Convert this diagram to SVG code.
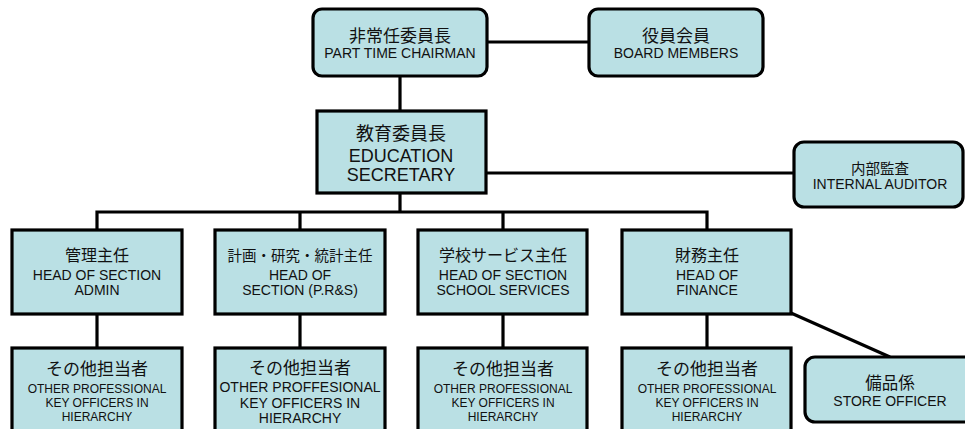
<svg xmlns="http://www.w3.org/2000/svg" width="965" height="429" viewBox="0 0 965 429">
<style>
.box{fill:#bae0e4;stroke:#000;stroke-width:3.2}
.c{stroke:#000;stroke-width:3.2;fill:none}
text{font-family:"Liberation Sans","Noto Sans CJK JP",Arial,sans-serif;text-anchor:middle;fill:#111}
.j{font-family:"Noto Sans CJK JP","Liberation Sans",sans-serif}
.e14{font-size:14px}
.e12{font-size:12px}
</style>
<rect width="965" height="429" fill="#fff"/>
<g id="connectors">
<line class="c" x1="487" y1="42" x2="589" y2="42"/>
<line class="c" x1="400" y1="76" x2="400" y2="111"/>
<line class="c" x1="486" y1="173" x2="794" y2="173"/>
<line class="c" x1="400" y1="193" x2="400" y2="212"/>
<polyline class="c" points="97,230 97,212 707,212 707,230"/>
<line class="c" x1="300" y1="212" x2="300" y2="230"/>
<line class="c" x1="503" y1="212" x2="503" y2="230"/>
<line class="c" x1="97" y1="314" x2="97" y2="348"/>
<line class="c" x1="300" y1="314" x2="300" y2="348"/>
<line class="c" x1="503" y1="314" x2="503" y2="348"/>
<line class="c" x1="707" y1="314" x2="707" y2="348"/>
<line class="c" x1="791" y1="313" x2="890" y2="357"/>
</g>
<g id="chairman">
<rect class="box" x="313" y="9" width="174" height="67" rx="9"/>
<text class="j" x="400" y="41.5" font-size="17">非常任委員長</text>
<text class="e14" x="400" y="58">PART TIME CHAIRMAN</text>
</g>
<g id="board">
<rect class="box" x="589" y="9" width="174" height="67" rx="9"/>
<text class="j" x="676" y="41.5" font-size="17">役員会員</text>
<text class="e14" x="676" y="58">BOARD MEMBERS</text>
</g>
<g id="education">
<rect class="box" x="317" y="111" width="169" height="82"/>
<text class="j" x="401" y="140" font-size="18">教育委員長</text>
<text x="401" y="161.5" font-size="18">EDUCATION</text>
<text x="401" y="180.5" font-size="18">SECRETARY</text>
</g>
<g id="auditor">
<rect class="box" x="794" y="142" width="169" height="65" rx="10"/>
<text class="j" x="880" y="173.5" font-size="14.5">内部監査</text>
<text class="e14" x="880" y="189">INTERNAL AUDITOR</text>
</g>
<g id="head-admin">
<rect class="box" x="12" y="230" width="170" height="84"/>
<text class="j" x="97" y="261" font-size="16">管理主任</text>
<text class="e14" x="97" y="280">HEAD OF SECTION</text>
<text class="e14" x="97" y="295">ADMIN</text>
</g>
<g id="head-prs">
<rect class="box" x="215" y="230" width="170" height="84"/>
<text class="j" x="300" y="261" font-size="14.5">計画・研究・統計主任</text>
<text class="e14" x="300" y="280">HEAD OF</text>
<text class="e14" x="300" y="295">SECTION (P.R&amp;S)</text>
</g>
<g id="head-school">
<rect class="box" x="418" y="230" width="169" height="84"/>
<text class="j" x="503" y="261" font-size="16">学校サービス主任</text>
<text class="e14" x="503" y="280">HEAD OF SECTION</text>
<text class="e14" x="503" y="295">SCHOOL SERVICES</text>
</g>
<g id="head-finance">
<rect class="box" x="622" y="230" width="169" height="84"/>
<text class="j" x="707" y="261" font-size="16">財務主任</text>
<text class="e14" x="707" y="280">HEAD OF</text>
<text class="e14" x="707" y="295">FINANCE</text>
</g>
<g id="officers-1">
<rect class="box" x="12" y="348" width="170" height="95"/>
<text class="j" x="97" y="375" font-size="17">その他担当者</text>
<text class="e12" x="97" y="392.5">OTHER PROFESSIONAL</text>
<text class="e12" x="97" y="406.5">KEY OFFICERS IN</text>
<text class="e12" x="97" y="420.5">HIERARCHY</text>
</g>
<g id="officers-2">
<rect class="box" x="215" y="348" width="170" height="95"/>
<text class="j" x="300" y="373.5" font-size="17">その他担当者</text>
<text class="e14" x="300" y="392">OTHER PROFFESIONAL</text>
<text class="e14" x="300" y="408">KEY OFFICERS IN</text>
<text class="e14" x="300" y="423">HIERARCHY</text>
</g>
<g id="officers-3">
<rect class="box" x="418" y="348" width="169" height="95"/>
<text class="j" x="503" y="375" font-size="17">その他担当者</text>
<text class="e12" x="503" y="392.5">OTHER PROFESSIONAL</text>
<text class="e12" x="503" y="406.5">KEY OFFICERS IN</text>
<text class="e12" x="503" y="420.5">HIERARCHY</text>
</g>
<g id="officers-4">
<rect class="box" x="622" y="348" width="169" height="95"/>
<text class="j" x="707" y="375" font-size="17">その他担当者</text>
<text class="e12" x="707" y="392.5">OTHER PROFESSIONAL</text>
<text class="e12" x="707" y="406.5">KEY OFFICERS IN</text>
<text class="e12" x="707" y="420.5">HIERARCHY</text>
</g>
<g id="store">
<rect class="box" x="805" y="357" width="172" height="65" rx="10"/>
<text class="j" x="890" y="388.5" font-size="16.5">備品係</text>
<text class="e14" x="890" y="405.5">STORE OFFICER</text>
</g>
</svg>
